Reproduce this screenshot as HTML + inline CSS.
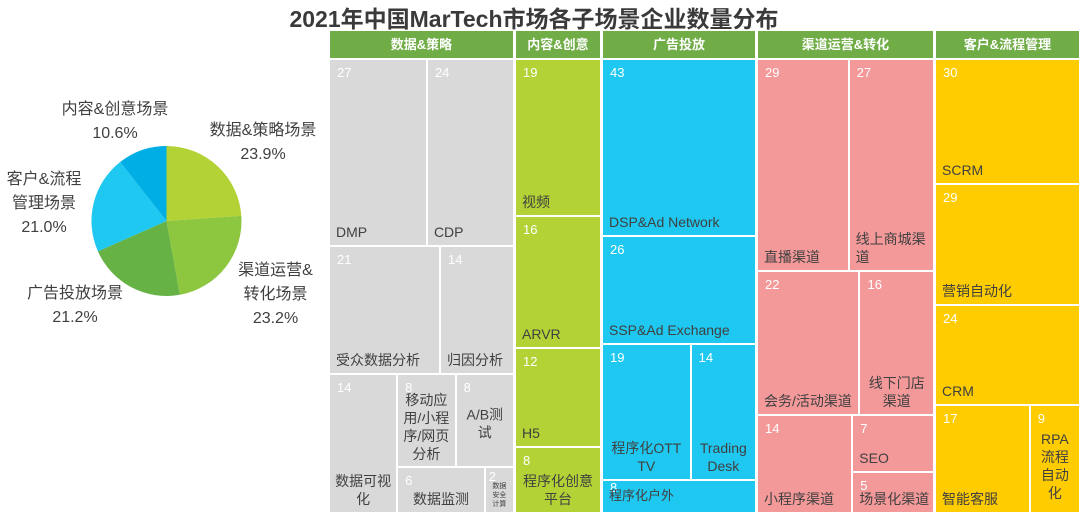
<!DOCTYPE html>
<html><head><meta charset="utf-8">
<style>
html,body{margin:0;padding:0;background:#fff;}
body{width:1080px;height:515px;position:relative;overflow:hidden;font-family:"Liberation Sans","Noto Sans CJK SC",sans-serif;color:#404040;}
#title{position:absolute;left:-16px;width:1100px;top:0px;text-align:center;font-size:23px;font-weight:bold;color:#3a3a3a;}
.hdr{position:absolute;top:31px;height:27px;background:#70ad47;color:#fff;font-size:13px;font-weight:bold;text-align:center;line-height:27px;}
.cell{position:absolute;box-sizing:border-box;border:1px solid #fff;overflow:hidden;}
.num{position:absolute;left:7px;top:5px;color:#fff;font-size:13px;}
.nm{position:absolute;left:6px;bottom:4px;font-size:14px;line-height:18px;color:#404040;}
.pl{position:absolute;font-size:16px;line-height:24px;color:#404040;text-align:center;}
</style></head><body>
<div id="title">2021年中国MarTech市场各子场景企业数量分布</div>
<svg id="pie" width="330" height="515" style="position:absolute;left:0;top:0"></svg>
<div class="pl" style="left:40px;top:98px;width:150px">内容&amp;创意场景<br>10.6%</div>
<div class="pl" style="left:198px;top:119px;width:130px">数据&amp;策略场景<br>23.9%</div>
<div class="pl" style="left:0px;top:168px;width:88px">客户&amp;流程<br>管理场景<br>21.0%</div>
<div class="pl" style="left:0px;top:282px;width:150px">广告投放场景<br>21.2%</div>
<div class="pl" style="left:228px;top:259px;width:95px">渠道运营&amp;<br>转化场景<br>23.2%</div>
<div id="tm"></div>
<script>
// Pie data (clockwise from 12 o'clock)
const pieCats = ['数据&策略场景','渠道运营&转化场景','广告投放场景','客户&流程管理场景','内容&创意场景'];
const pieVals = [23.9,23.2,21.2,21.0,10.6];
const pieColors = ['#b3d235','#8dc63f','#66b245','#1ec8f0','#00aee6'];

// Treemap data
const groupNames = ['数据&策略','内容&创意','广告投放','渠道运营&转化','客户&流程管理'];
const groupColors = ['#d9d9d9','#b3d235','#1ec8f0','#f4999a','#ffcc00'];
const colEdges = [328,514,601,756,934,1080];
const L=(n,v,o)=>Object.assign({n,v},o||{});
const groups = [
 {dir:'v',children:[
   {dir:'h',children:[L('DMP',27),L('CDP',24)]},
   {dir:'h',children:[L('受众数据分析',21),L('归因分析',14)]},
   {dir:'h',children:[L('数据可视化',14,{c:1}),{dir:'v',children:[
      {dir:'h',children:[L('移动应用/小程序/网页分析',8,{c:1,mid:1}),L('A/B测试',8,{c:1,mid:1})]},
      {dir:'h',children:[L('数据监测',6,{c:1}),L('数据安全计算',2,{c:1,fs:7})]}]}]}]},
 {dir:'v',children:[L('视频',19),L('ARVR',16),L('H5',12),L('程序化创意平台',8,{c:1})]},
 {dir:'v',children:[L('DSP&Ad Network',43),L('SSP&Ad Exchange',26),
   {dir:'h',children:[L('程序化OTT TV',19,{c:1}),L('Trading Desk',14,{c:1})]},L('程序化户外',8,{top:1})]},
 {dir:'v',children:[
   {dir:'h',children:[L('直播渠道',29),L('线上商城渠道',27)]},
   {dir:'h',children:[L('会务/活动渠道',22),L('线下门店渠道',16,{c:1})]},
   {dir:'h',children:[L('小程序渠道',14),{dir:'v',children:[L('SEO',7),L('场景化渠道',5)]}]}]},
 {dir:'v',children:[L('SCRM',30),L('营销自动化',29),L('CRM',24),
   {dir:'h',children:[L('智能客服',17),L('RPA流程自动化',9,{c:1,mid:1})]}]}
];

// draw pie
const svg=document.getElementById('pie');const NS='http://www.w3.org/2000/svg';
const cx=166.5,cy=221,r=75;const tot=pieVals.reduce((a,b)=>a+b,0);let a0=0;
pieVals.forEach((v,i)=>{const a1=a0+v/tot*2*Math.PI;
 const x0=cx+r*Math.sin(a0),y0=cy-r*Math.cos(a0),x1=cx+r*Math.sin(a1),y1=cy-r*Math.cos(a1);
 const p=document.createElementNS(NS,'path');
 p.setAttribute('d',`M${cx},${cy}L${x0},${y0}A${r},${r} 0 ${a1-a0>Math.PI?1:0} 1 ${x1},${y1}Z`);
 p.setAttribute('fill',pieColors[i]);
 
 
 svg.appendChild(p);a0=a1;});

// treemap
const tm=document.getElementById('tm');
const val=n=>n.children?n.children.reduce((s,c)=>s+val(c),0):n.v;
function layout(n,x,y,w,h,col){
 if(!n.children){
  const d=document.createElement('div');d.className='cell';
  
  
  d.style.cssText=`left:${x}px;top:${y}px;width:${w}px;height:${h}px;background:${col}`;
  const nu=document.createElement('div');nu.className='num';nu.textContent=n.v;
  if(n.fs){nu.style.left='3px';nu.style.top='1px';}
  if(n.top){nu.style.top='0px';nu.style.lineHeight='14px';}
  d.appendChild(nu);
  const nm=document.createElement('div');nm.className='nm';nm.textContent=n.n;
  if(n.c){nm.style.left='4px';nm.style.right='4px';nm.style.textAlign='center';}
  if(n.fs){nm.style.fontSize=n.fs+'px';nm.style.lineHeight='9px';nm.style.left='5px';nm.style.right='5px';nm.style.bottom='3px';}
  if(n.mid){nm.style.bottom='auto';nm.style.top='50%';nm.style.transform='translateY(-40%)';}
  if(n.top){nm.style.bottom='auto';nm.style.top='8px';nm.style.left='6px';nm.style.fontSize='13px';nm.style.lineHeight='14px';}
  d.appendChild(nm);tm.appendChild(d);return;}
 const t=val(n);let o=0;
 n.children.forEach(c=>{const f=val(c)/t;
  if(n.dir==='v')layout(c,x,y+o*h,w,f*h,col);else layout(c,x+o*w,y,f*w,h,col);o+=f;});
}
groups.forEach((g,i)=>{
 const x=colEdges[i],w=colEdges[i+1]-colEdges[i];
 const hd=document.createElement('div');hd.className='hdr';
 
 
 hd.style.left=(x+2)+'px';hd.style.width=(w-3)+'px';hd.textContent=groupNames[i];tm.appendChild(hd);
 layout(g,x+1,59,w-1,454,groupColors[i]);
});
</script>
</body></html>
